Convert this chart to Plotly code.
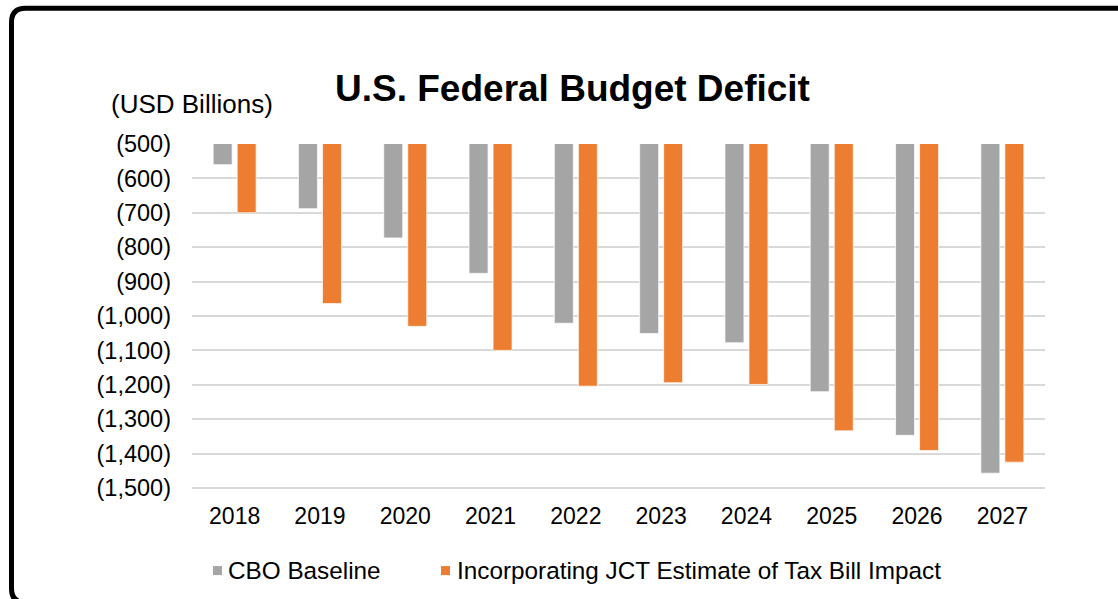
import plotly.graph_objects as go

years = ["2018", "2019", "2020", "2021", "2022", "2023", "2024", "2025", "2026", "2027"]
cbo_baseline = [-560, -688, -773, -876, -1021, -1051, -1078, -1220, -1347, -1457]
jct_estimate = [-700, -964, -1030, -1100, -1204, -1194, -1199, -1334, -1391, -1425]
tick_vals = [-500, -600, -700, -800, -900, -1000, -1100, -1200, -1300, -1400, -1500]
tick_text = ["(500)", "(600)", "(700)", "(800)", "(900)", "(1,000)", "(1,100)",
             "(1,200)", "(1,300)", "(1,400)", "(1,500)"]
series_names = ["CBO Baseline", "Incorporating JCT Estimate of Tax Bill Impact"]
series_colors = ["#A5A5A5", "#ED7D31"]

W, H = 1118, 599
Y_MIN, Y_MAX = -1503, -500
L, R = 192, 1045
T = 144
B = 487.5 + 3 * (343.5 / 1000)

FONT = "Liberation Sans, Arial, sans-serif"

fig = go.Figure()
for name, vals, col in zip(series_names, [cbo_baseline, jct_estimate], series_colors):
    fig.add_trace(go.Bar(
        x=years, y=vals, name=name, showlegend=False,
        marker=dict(color=col, line=dict(color="rgba(255,255,255,0.7)", width=1)),
    ))

def px_x(p):
    return (p - L) / (R - L)

def px_y(p):
    return (B - p) / (B - T)

# rounded outer frame (extends past right and bottom edges)
x0, x1 = 11.5, 1135
y0, y1 = 8.5, 602
r = 14
path = (
    f"M {px_x(x0)},{px_y(y0 + r)} "
    f"Q {px_x(x0)},{px_y(y0)} {px_x(x0 + r)},{px_y(y0)} "
    f"L {px_x(x1)},{px_y(y0)} "
    f"L {px_x(x1)},{px_y(y1)} "
    f"L {px_x(x0 + r)},{px_y(y1)} "
    f"Q {px_x(x0)},{px_y(y1)} {px_x(x0)},{px_y(y1 - r)} Z"
)
fig.add_shape(type="path", path=path, xref="paper", yref="paper",
              line=dict(color="black", width=5), layer="above")

fig.add_annotation(
    text="(USD Billions)", xref="paper", yref="paper",
    x=px_x(191.5), y=px_y(104), xanchor="center", yanchor="middle",
    showarrow=False, font=dict(family=FONT, size=26, color="black"),
)

# legend (squares + labels)
legend_sq_x = [213, 441]
legend_txt_x = [226, 455]
legend_y = 570
for sx, tx, name, col in zip(legend_sq_x, legend_txt_x, series_names, series_colors):
    fig.add_shape(type="rect", xref="paper", yref="paper",
                  x0=px_x(sx), x1=px_x(sx + 9), y0=px_y(legend_y + 4.5), y1=px_y(legend_y - 4.5),
                  fillcolor=col, line=dict(width=0))
    fig.add_annotation(
        text=name, xref="paper", yref="paper", x=px_x(tx), y=px_y(legend_y),
        xanchor="left", yanchor="middle", showarrow=False,
        font=dict(family=FONT, size=24.3, color="black"),
    )

fig.update_layout(
    width=W, height=H,
    margin=dict(l=L, r=W - R, t=T, b=H - B, pad=0),
    paper_bgcolor="white", plot_bgcolor="white",
    title=dict(
        text="U.S. Federal Budget Deficit",
        x=572.5 / W, xanchor="center", y=1 - 88 / H, yanchor="middle",
        font=dict(family=FONT, size=37, color="black", weight="bold"),
    ),
    barmode="group", bargap=0.437, bargroupgap=0.21,
    font=dict(family=FONT, size=23, color="black"),
    showlegend=False,
    xaxis=dict(
        type="category", showgrid=False, showline=False, zeroline=False,
        ticks="", ticklabelstandoff=11,
        tickfont=dict(family=FONT, size=23, color="black"),
    ),
    yaxis=dict(
        range=[Y_MIN, Y_MAX], tickvals=tick_vals, ticktext=tick_text,
        showgrid=True, gridcolor="#D9D9D9", gridwidth=2,
        zeroline=False, showline=False, ticks="", ticklabelstandoff=20,
        tickfont=dict(family=FONT, size=23.5, color="black"),
    ),
)

fig.write_html("out.html")
